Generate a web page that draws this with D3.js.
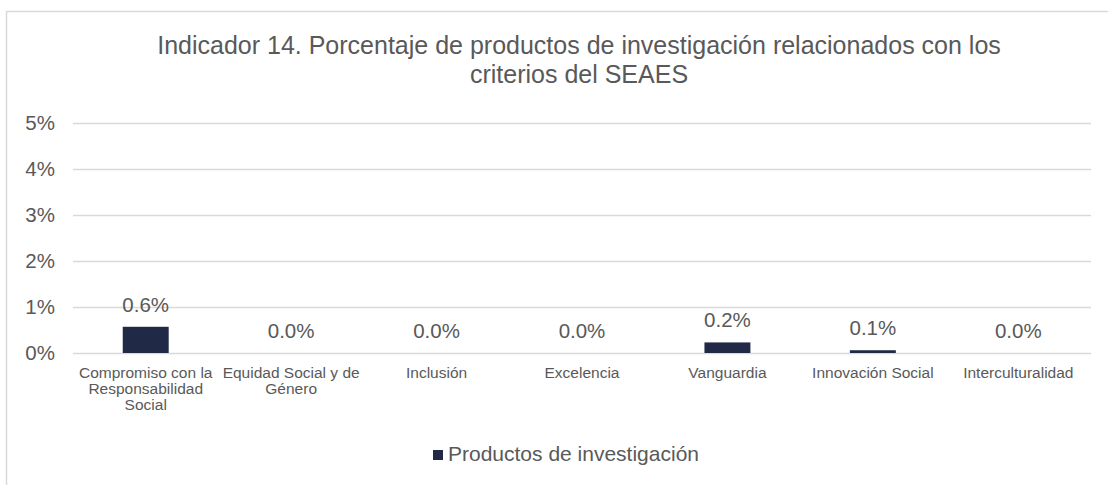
<!DOCTYPE html>
<html>
<head>
<meta charset="utf-8">
<script src="https://cdn.jsdelivr.net/npm/d3@7"></script>
<style>
    body { margin: 0; background: #fff; }
    svg { display: block; font-family: "Liberation Sans", Arial, sans-serif; }
</style>
</head>
<body>
<div id="chart"></div>
<script>
const categories = [
    "Compromiso con la Responsabilidad Social",
    "Equidad Social y de Género",
    "Inclusión",
    "Excelencia",
    "Vanguardia",
    "Innovación Social",
    "Interculturalidad"
];
const values = [0.57, 0, 0, 0, 0.23, 0.06, 0];
const yTicks = [0, 1, 2, 3, 4, 5];
const titleLines = [
    "Indicador 14. Porcentaje de productos de investigación relacionados con los",
    "criterios del SEAES"
];
const seriesName = "Productos de investigación";

const WIDTH = 1108;
const HEIGHT = 485;
const BAR_COLOR = "#202945";
const TEXT_COLOR = "#595959";
const GRID_COLOR = "#d9d9d9";

const svg = d3.select("#chart").append("svg")
    .attr("width", WIDTH)
    .attr("height", HEIGHT);

// chart frame (runs off the right and bottom edges)
svg.append("rect")
    .attr("x", 6.5).attr("y", 11.5)
    .attr("width", 1300).attr("height", 700)
    .attr("fill", "#fff")
    .attr("stroke", GRID_COLOR)
    .attr("stroke-width", 1.5);

const title = svg.append("text")
    .attr("text-anchor", "middle")
    .attr("fill", TEXT_COLOR)
    .style("font-size", "25px");
title.selectAll("tspan")
    .data(titleLines)
    .enter()
    .append("tspan")
    .attr("x", 579)
    .attr("y", (d, i) => 54 + i * 29)
    .text(d => d);

const x = d3.scaleBand()
    .domain(categories)
    .range([73, 1091])
    .paddingInner(0.684)
    .paddingOuter(0.342);

const y = d3.scaleLinear()
    .domain([0, 5])
    .range([353, 123]);

// gridlines + y labels
const yAxis = d3.axisLeft(y)
    .tickValues(yTicks)
    .tickSize(-(1091 - 73))
    .tickPadding(18)
    .tickFormat(d => d + "%");

const gy = svg.append("g")
    .attr("transform", "translate(73,0)")
    .call(yAxis);
gy.select(".domain").remove();
gy.selectAll(".tick line")
    .attr("stroke", GRID_COLOR)
    .attr("stroke-width", 1.5);
gy.selectAll(".tick text")
    .attr("fill", TEXT_COLOR)
    .style("font-size", "20.5px")
    .attr("font-family", null);

// bars
svg.selectAll(".bar")
    .data(values)
    .enter()
    .append("rect")
    .attr("class", "bar")
    .attr("x", (d, i) => x(categories[i]))
    .attr("y", d => y(d))
    .attr("width", x.bandwidth())
    .attr("height", d => y(0) - y(d))
    .attr("fill", BAR_COLOR);

// data labels
svg.selectAll(".value-label")
    .data(values)
    .enter()
    .append("text")
    .attr("class", "value-label")
    .attr("text-anchor", "middle")
    .attr("x", (d, i) => x(categories[i]) + x.bandwidth() / 2)
    .attr("y", d => y(d) - 15)
    .attr("fill", TEXT_COLOR)
    .style("font-size", "20.5px")
    .text(d => d3.format(".1f")(d) + "%");

// category labels, wrapped like Excel does
const xAxis = d3.axisBottom(x).tickSize(0).tickPadding(0);
const gx = svg.append("g")
    .attr("transform", "translate(0,353)")
    .call(xAxis);
gx.select(".domain").remove();
gx.selectAll(".tick text")
    .attr("fill", TEXT_COLOR)
    .attr("font-family", null)
    .attr("dy", null)
    .style("font-size", "15.5px")
    .call(wrap, x.step());

function wrap(texts, width) {
    texts.each(function () {
        const text = d3.select(this);
        const words = text.text().split(/\s+/);
        text.text(null);
        let line = [];
        let lineNo = 0;
        let tspan = text.append("tspan").attr("x", 0).attr("y", 25);
        for (const word of words) {
            line.push(word);
            tspan.text(line.join(" "));
            if (tspan.node().getComputedTextLength() > width && line.length > 1) {
                line.pop();
                tspan.text(line.join(" "));
                line = [word];
                lineNo++;
                tspan = text.append("tspan").attr("x", 0).attr("y", 25 + lineNo * 16).text(word);
            }
        }
    });
}

// legend
const legend = svg.append("g").attr("transform", "translate(433,450)");
legend.append("rect")
    .attr("width", 10).attr("height", 10)
    .attr("fill", BAR_COLOR);
legend.append("text")
    .attr("x", 15).attr("y", 11)
    .attr("fill", TEXT_COLOR)
    .style("font-size", "21px")
    .text(seriesName);
</script>
</body>
</html>
